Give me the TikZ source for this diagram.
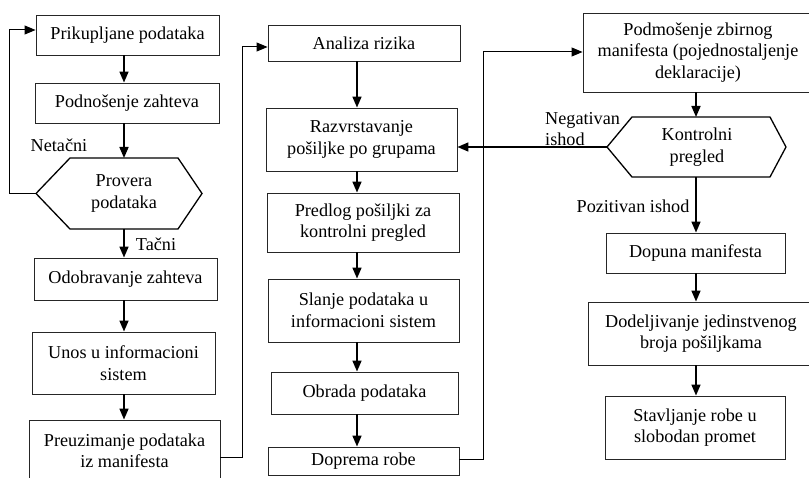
\documentclass[tikz,border=0pt]{standalone}
\usepackage{fontspec}
\setmainfont{Liberation Serif}
\newfontfamily\tnr{Liberation Serif}
\usetikzlibrary{arrows.meta,calc}
\begin{document}
\begin{tikzpicture}[x=1pt,y=-1pt,
  txt/.style={font=\tnr\fontsize{18.2}{21.5}\selectfont},
  box/.style={txt,draw=black!85,line width=0.9pt,inner sep=0pt,align=center},
  lbl/.style={txt,inner sep=0pt,align=left},
  arr/.style={line width=1.6pt,-{Triangle[length=11pt,width=9pt]}},
  thinarr/.style={line width=1pt,-{Triangle[length=11pt,width=9pt]}},
  hexa/.style={draw=black,line width=1.3pt,line join=miter}]
\useasboundingbox (0,0) rectangle (809,478);
\clip (0,0) rectangle (809,478);
% ---------- left column ----------
\node[box,minimum width=183pt,minimum height=40pt] (n1) at (127.5,35) {Prikupljane podataka};
\node[box,minimum width=184pt,minimum height=40pt] (n2) at (127,103) {Podnošenje zahteva};
\node[lbl,align=center] (h1) at (124,193.5) {Provera\\podataka};
\draw[hexa] (36,193.5) coordinate (h1l) -- (70,158) -- (178,158) -- (202,193.5) -- (178,229) -- (70,229) -- cycle;
\coordinate (h1top) at (124,158);
\coordinate (h1bot) at (124,229);
\node[box,minimum width=183pt,minimum height=42pt] (n3) at (125.5,279) {Odobravanje zahteva};
\node[box,minimum width=183pt,minimum height=62pt] (n4) at (123.5,363) {Unos u informacioni\\sistem};
\node[box,minimum width=191pt,minimum height=70pt] (n5) at (124.5,455) {};
\node[txt,align=center,inner sep=0pt] (n5t) at (124.5,451) {Preuzimanje podataka\\iz manifesta};
\node[lbl] (netacni) at (59,145) {Netačni};
\node[lbl] (tacni) at (156,244) {Tačni};
% ---------- middle column ----------
\coordinate (mx) at (357,0);
\node[box,minimum width=192pt,minimum height=36pt] (m1) at (364,43) {Analiza rizika};
\node[box,minimum width=191pt,minimum height=63pt] (m2) at (361.5,139.5) {Razvrstavanje\\pošiljke po grupama};
\node[box,minimum width=192pt,minimum height=59pt] (m3) at (363,222.5) {Predlog pošiljki za\\kontrolni pregled};
\node[box,minimum width=191pt,minimum height=63pt] (m4) at (363.5,310.5) {Slanje podataka u\\informacioni sistem};
\node[box,minimum width=187pt,minimum height=42pt] (m5) at (364.5,393) {Obrada podataka};
\node[box,minimum width=191pt,minimum height=28pt] (m6) at (363.5,461) {Doprema robe};
% ---------- right column ----------
\coordinate (rx) at (696,0);
\node[box,minimum width=230pt,minimum height=79pt] (r1) at (698,52.5) {Podmošenje zbirnog\\manifesta (pojednostaljenje\\deklaracije)};
\node[lbl,align=center] (h2) at (697,147) {Kontrolni\\pregled};
\draw[hexa] (607,147) coordinate (h2l) -- (632,117) -- (770,117) -- (786,147) -- (770,177) -- (632,177) -- cycle;
\coordinate (h2top) at (696,117);
\coordinate (h2bot) at (696,177);
\node[box,minimum width=179pt,minimum height=40pt] (r2) at (695.5,253) {Dopuna manifesta};
\node[box,minimum width=226pt,minimum height=63pt] (r3) at (701,333.5) {Dodeljivanje jedinstvenog\\broja pošiljkama};
\node[box,minimum width=180pt,minimum height=63pt] (r4) at (695,427.5) {Stavljanje robe u\\slobodan promet};
\node[lbl,anchor=west] (neg) at (545,129) {Negativan\\ishod};
\node[lbl] (poz) at (633,206) {Pozitivan ishod};
% ---------- vertical arrows ----------
\draw[arr] (n1.south -| h1) -- (n2.north -| h1);
\draw[arr] (n2.south -| h1) -- (h1top);
\draw[arr] (h1bot) -- (n3.north -| h1);
\draw[arr] (n3.south -| h1) -- (n4.north -| h1);
\draw[arr] (n4.south -| h1) -- (n5.north -| h1);
\draw[arr] (m1.south -| mx) -- (m2.north -| mx);
\draw[arr] (m2.south -| mx) -- (m3.north -| mx);
\draw[arr] (m3.south -| mx) -- (m4.north -| mx);
\draw[arr] (m4.south -| mx) -- (m5.north -| mx);
\draw[arr] (m5.south -| mx) -- (m6.north -| mx);
\draw[arr] (r1.south -| rx) -- (h2top);
\draw[arr] (h2bot) -- (r2.north -| rx);
\draw[arr] (r2.south -| rx) -- (r3.north -| rx);
\draw[arr] (r3.south -| rx) -- (r4.north -| rx);
% ---------- loops ----------
\coordinate (l1) at (9,30);
\draw[thinarr] (h1l) -| (l1) -- (n1.west |- l1);
\coordinate (l2a) at (242,457);
\coordinate (l2) at (242,47);
\draw[thinarr] (n5.east |- l2a) -- (l2a) -- (l2) -- (m1.west |- l2);
\coordinate (l3a) at (483,459);
\coordinate (l3) at (483,52);
\draw[thinarr] (m6.east |- l3a) -- (l3a) -- (l3) -- (r1.west |- l3);
\draw[arr] (h2l) -- (m2.east |- h2l);
\end{tikzpicture}
\end{document}
